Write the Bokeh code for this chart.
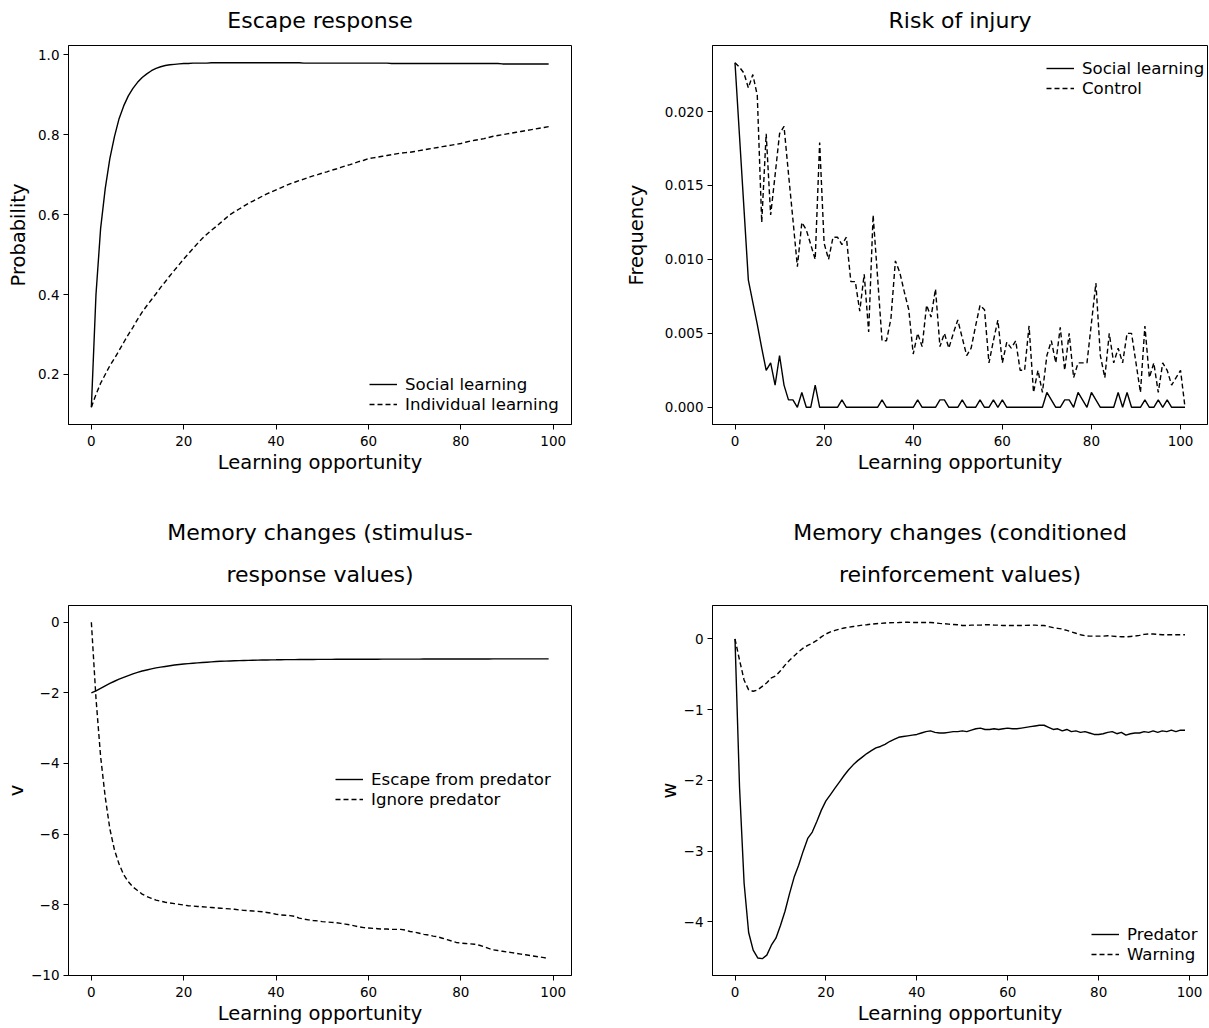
from bokeh.plotting import figure
from bokeh.layouts import column, row
from bokeh.models import (Range1d, FixedTicker, Legend, LegendItem, Title,
                          PrintfTickFormatter, CustomJSTickFormatter)
from bokeh.embed import file_html
from bokeh.resources import INLINE

FONT = "DejaVu Sans"

# ---------------- data ----------------
opportunity = list(range(100))
opportunity_injury = list(range(102))

escape_social = [
    0.118, 0.400, 0.565, 0.665, 0.740, 0.795, 0.840, 0.872, 0.897, 0.916,
    0.931, 0.943, 0.952, 0.960, 0.966, 0.970, 0.973, 0.975, 0.976, 0.977,
    0.978, 0.978, 0.979, 0.979, 0.979, 0.979, 0.980, 0.980, 0.980, 0.980,
    0.980, 0.980, 0.980, 0.980, 0.980, 0.980, 0.980, 0.980, 0.980, 0.980,
    0.980, 0.980, 0.980, 0.980, 0.980, 0.980, 0.979, 0.979, 0.979, 0.979,
    0.979, 0.979, 0.979, 0.979, 0.979, 0.979, 0.979, 0.979, 0.979, 0.979,
    0.979, 0.979, 0.979, 0.979, 0.979, 0.978, 0.978, 0.978, 0.978, 0.978,
    0.978, 0.978, 0.978, 0.978, 0.978, 0.978, 0.978, 0.978, 0.978, 0.978,
    0.978, 0.978, 0.978, 0.978, 0.978, 0.978, 0.978, 0.978, 0.978, 0.977,
    0.977, 0.977, 0.977, 0.977, 0.977, 0.977, 0.977, 0.977, 0.977, 0.977,
]
escape_individual = [
    0.118, 0.150, 0.178, 0.200, 0.222, 0.240, 0.260, 0.280, 0.300, 0.318,
    0.338, 0.356, 0.372, 0.387, 0.402, 0.418, 0.432, 0.447, 0.461, 0.475,
    0.489, 0.502, 0.515, 0.528, 0.540, 0.551, 0.561, 0.570, 0.580, 0.590,
    0.600, 0.607, 0.614, 0.621, 0.628, 0.634, 0.640, 0.646, 0.652, 0.657,
    0.662, 0.667, 0.672, 0.677, 0.681, 0.685, 0.689, 0.693, 0.697, 0.700,
    0.704, 0.707, 0.711, 0.714, 0.718, 0.722, 0.725, 0.729, 0.733, 0.736,
    0.740, 0.742, 0.744, 0.746, 0.748, 0.750, 0.752, 0.754, 0.755, 0.756,
    0.758, 0.760, 0.762, 0.764, 0.766, 0.768, 0.770, 0.772, 0.774, 0.776,
    0.778, 0.781, 0.784, 0.786, 0.788, 0.790, 0.793, 0.796, 0.798, 0.800,
    0.802, 0.804, 0.806, 0.808, 0.810, 0.812, 0.814, 0.816, 0.818, 0.820,
]

injury_social = [
    0.0233, 0.0184, 0.0135, 0.0086, 0.0071, 0.0056, 0.0040, 0.0025, 0.0030, 0.0015,
    0.0035, 0.0015, 0.0005, 0.0005, 0.0, 0.0010, 0.0, 0.0, 0.0015, 0.0,
    0.0, 0.0, 0.0, 0.0, 0.0005, 0.0, 0.0, 0.0, 0.0, 0.0,
    0.0, 0.0, 0.0, 0.0005, 0.0, 0.0, 0.0, 0.0, 0.0, 0.0,
    0.0, 0.0005, 0.0, 0.0, 0.0, 0.0, 0.0005, 0.0005, 0.0, 0.0,
    0.0, 0.0005, 0.0, 0.0, 0.0, 0.0005, 0.0, 0.0, 0.0005, 0.0,
    0.0005, 0.0, 0.0, 0.0, 0.0, 0.0, 0.0, 0.0, 0.0, 0.0,
    0.0010, 0.0005, 0.0, 0.0, 0.0005, 0.0005, 0.0, 0.0010, 0.0005, 0.0,
    0.0010, 0.0005, 0.0, 0.0, 0.0, 0.0, 0.0010, 0.0, 0.0010, 0.0,
    0.0, 0.0, 0.0005, 0.0, 0.0, 0.0005, 0.0, 0.0005, 0.0, 0.0,
    0.0, 0.0,
]
injury_control = [
    0.0233, 0.0230, 0.0226, 0.0216, 0.0225, 0.0211, 0.0125, 0.0185, 0.0130, 0.0157,
    0.0185, 0.0190, 0.0158, 0.0127, 0.0095, 0.0125, 0.0120, 0.0110, 0.0100, 0.0179,
    0.0111, 0.0100, 0.0115, 0.0115, 0.0110, 0.0115, 0.0085, 0.0085, 0.0065, 0.0090,
    0.0051, 0.0130, 0.0088, 0.0045, 0.0045, 0.0060, 0.0099, 0.0091, 0.0078, 0.0066,
    0.0036, 0.0050, 0.0041, 0.0069, 0.0061, 0.0080, 0.0041, 0.0050, 0.0040, 0.0050,
    0.0059, 0.0047, 0.0035, 0.0040, 0.0055, 0.0069, 0.0066, 0.0030, 0.0045, 0.0059,
    0.0030, 0.0044, 0.0040, 0.0045, 0.0025, 0.0025, 0.0055, 0.0010, 0.0025, 0.0010,
    0.0035, 0.0045, 0.0030, 0.0054, 0.0025, 0.0050, 0.0020, 0.0030, 0.0030, 0.0030,
    0.0057, 0.0084, 0.0035, 0.0020, 0.0050, 0.0030, 0.0040, 0.0030, 0.0050, 0.0050,
    0.0030, 0.0010, 0.0055, 0.0020, 0.0030, 0.0010, 0.0030, 0.0025, 0.0015, 0.0020,
    0.0025, 0.0,
]

v_escape = [
    -2.00, -1.94, -1.87, -1.80, -1.73, -1.67, -1.61, -1.56, -1.51, -1.46,
    -1.42, -1.38, -1.35, -1.32, -1.29, -1.27, -1.25, -1.23, -1.21, -1.195,
    -1.18, -1.17, -1.16, -1.15, -1.14, -1.13, -1.12, -1.11, -1.105, -1.10,
    -1.095, -1.09, -1.085, -1.08, -1.077, -1.074, -1.071, -1.068, -1.066, -1.064,
    -1.062, -1.059, -1.058, -1.057, -1.056, -1.055, -1.054, -1.053, -1.052, -1.051,
    -1.050, -1.049, -1.049, -1.048, -1.048, -1.047, -1.047, -1.046, -1.046, -1.046,
    -1.045, -1.045, -1.045, -1.044, -1.044, -1.044, -1.043, -1.043, -1.043, -1.042,
    -1.042, -1.042, -1.041, -1.041, -1.041, -1.040, -1.040, -1.040, -1.040, -1.039,
    -1.039, -1.039, -1.039, -1.038, -1.038, -1.038, -1.038, -1.037, -1.037, -1.037,
    -1.037, -1.036, -1.036, -1.036, -1.036, -1.035, -1.035, -1.035, -1.035, -1.035,
]
v_ignore = [
    0.00, -2.15, -3.80, -4.95, -5.85, -6.45, -6.85, -7.15, -7.35, -7.50,
    -7.60, -7.70, -7.77, -7.82, -7.87, -7.90, -7.93, -7.95, -7.97, -7.99,
    -8.01, -8.03, -8.04, -8.05, -8.06, -8.07, -8.08, -8.09, -8.10, -8.11,
    -8.12, -8.13, -8.15, -8.16, -8.17, -8.18, -8.19, -8.20, -8.22, -8.24,
    -8.27, -8.29, -8.30, -8.31, -8.33, -8.38, -8.41, -8.43, -8.45, -8.46,
    -8.48, -8.49, -8.50, -8.51, -8.53, -8.55, -8.57, -8.60, -8.63, -8.65,
    -8.66, -8.67, -8.68, -8.69, -8.69, -8.70, -8.70, -8.70, -8.72, -8.76,
    -8.78, -8.81, -8.84, -8.86, -8.89, -8.91, -8.95, -8.99, -9.03, -9.07,
    -9.09, -9.10, -9.11, -9.12, -9.15, -9.19, -9.24, -9.28, -9.30, -9.32,
    -9.34, -9.36, -9.38, -9.40, -9.42, -9.44, -9.46, -9.48, -9.50, -9.53,
]

w_predator = [
    0.00, -2.10, -3.45, -4.15, -4.40, -4.51, -4.52, -4.47, -4.33, -4.23,
    -4.05, -3.85, -3.60, -3.37, -3.20, -3.00, -2.82, -2.73, -2.58, -2.42,
    -2.29, -2.20, -2.11, -2.02, -1.93, -1.85, -1.78, -1.72, -1.67, -1.62,
    -1.58, -1.54, -1.52, -1.49, -1.45, -1.42, -1.39, -1.38, -1.37, -1.36,
    -1.35, -1.33, -1.31, -1.30, -1.32, -1.33, -1.33, -1.32, -1.31, -1.31,
    -1.30, -1.31, -1.29, -1.27, -1.26, -1.28, -1.28, -1.27, -1.28, -1.27,
    -1.26, -1.27, -1.27, -1.26, -1.25, -1.24, -1.23, -1.22, -1.22, -1.25,
    -1.28, -1.27, -1.30, -1.28, -1.31, -1.30, -1.32, -1.31, -1.33, -1.35,
    -1.35, -1.34, -1.32, -1.31, -1.34, -1.32, -1.36, -1.34, -1.33, -1.33,
    -1.31, -1.32, -1.30, -1.32, -1.30, -1.31, -1.29, -1.31, -1.29, -1.29,
]
w_warning = [
    0.00, -0.30, -0.58, -0.72, -0.74, -0.72, -0.67, -0.62, -0.55, -0.52,
    -0.45, -0.37, -0.30, -0.24, -0.18, -0.13, -0.09, -0.06, -0.02, 0.03,
    0.07, 0.10, 0.12, 0.14, 0.155, 0.165, 0.175, 0.185, 0.195, 0.20,
    0.21, 0.215, 0.22, 0.225, 0.228, 0.23, 0.232, 0.235, 0.235, 0.233,
    0.232, 0.233, 0.233, 0.232, 0.228, 0.22, 0.215, 0.21, 0.205, 0.20,
    0.19, 0.19, 0.195, 0.195, 0.195, 0.20, 0.20, 0.195, 0.195, 0.19,
    0.19, 0.19, 0.19, 0.19, 0.192, 0.195, 0.195, 0.19, 0.19, 0.175,
    0.16, 0.15, 0.14, 0.12, 0.10, 0.08, 0.06, 0.045, 0.04, 0.04,
    0.04, 0.04, 0.045, 0.04, 0.035, 0.03, 0.03, 0.035, 0.04, 0.05,
    0.065, 0.07, 0.07, 0.065, 0.06, 0.06, 0.06, 0.06, 0.06, 0.06,
]

x_ticks = [0, 20, 40, 60, 80, 100]

# ---------------- helpers ----------------
MINUS_CODE = """
    if (tick < 0) { return "\\u2212" + Math.abs(tick).toString(); }
    return tick.toString();
"""


def make_fig(fw, fh, bl, br, bt, bb, xr, yr):
    p = figure(frame_width=fw, frame_height=fh,
               min_border_left=bl, min_border_right=br,
               min_border_top=bt, min_border_bottom=bb,
               x_range=Range1d(*xr), y_range=Range1d(*yr),
               output_backend="svg", toolbar_location=None, tools="",
               title=None)
    p.xgrid.visible = False
    p.ygrid.visible = False
    p.outline_line_color = "black"
    p.outline_line_alpha = 1
    p.outline_line_width = 1
    p.background_fill_color = "white"
    p.border_fill_color = "white"
    for ax in (p.xaxis[0], p.yaxis[0]):
        ax.axis_line_color = "black"
        ax.major_tick_line_color = "black"
        ax.major_tick_out = 5
        ax.major_tick_in = 0
        ax.minor_tick_line_color = None
        ax.major_label_standoff = 4
        ax.major_label_text_font = FONT
        ax.major_label_text_font_size = "13.5px"
        ax.major_label_text_color = "black"
        ax.axis_label_text_font = FONT
        ax.axis_label_text_font_size = "19.5px"
        ax.axis_label_text_font_style = "normal"
        ax.axis_label_text_color = "black"
        ax.axis_label_standoff = 2
    p.xaxis[0].major_label_standoff = 6
    p.xaxis[0].ticker = FixedTicker(ticks=x_ticks)
    p.xaxis[0].axis_label = "Learning opportunity"
    return p


def add_titles(p, lines, spacer, standoffs):
    # a tiny blank title acts as a spacer between the frame and the text
    p.add_layout(Title(text=" ", text_font_size="1px", standoff=spacer), "above")
    # each added Title is stacked further away from the frame
    for text, so in zip(reversed(lines), standoffs):
        p.add_layout(Title(text=text, align="center", text_font=FONT,
                           text_font_size="22px", text_font_style="normal",
                           text_color="black", standoff=so), "above")


def add_legend(p, items, loc):
    leg = Legend(items=[LegendItem(label=l, renderers=[r]) for l, r in items],
                 location=loc, glyph_width=28, glyph_height=20, label_height=20,
                 label_standoff=8, spacing=0, padding=5, margin=0,
                 border_line_alpha=0, background_fill_alpha=0,
                 label_text_font=FONT, label_text_font_size="16.6px",
                 label_text_color="black")
    p.add_layout(leg)


LW = 1.4
DASH = "5 3"
LEFT_W = 503
RIGHT_W = 495

# ---------------- top-left: escape response ----------------
p1 = make_fig(LEFT_W, 379, 68, 10, 45, 60, (-4.95, 103.95), (0.0749, 1.0231))
add_titles(p1, ["Escape response"], 10, [0])
p1.yaxis[0].ticker = FixedTicker(ticks=[0.2, 0.4, 0.6, 0.8, 1.0])
p1.yaxis[0].formatter = PrintfTickFormatter(format="%.1f")
p1.yaxis[0].axis_label = "Probability"
p1.yaxis[0].axis_label_standoff = 5
r1a = p1.line(opportunity, escape_social, line_color="black", line_width=LW)
r1b = p1.line(opportunity, escape_individual, line_color="black", line_width=LW, line_dash=DASH)
add_legend(p1, [("Social learning", r1a), ("Individual learning", r1b)], (296, 5))

# ---------------- top-right: risk of injury ----------------
p2 = make_fig(RIGHT_W, 379, 131, 1, 45, 60, (-5.05, 106.05), (-0.001165, 0.024465))
add_titles(p2, ["Risk of injury"], 10, [0])
p2.yaxis[0].ticker = FixedTicker(ticks=[0.0, 0.005, 0.010, 0.015, 0.020])
p2.yaxis[0].formatter = PrintfTickFormatter(format="%.3f")
p2.yaxis[0].axis_label = "Frequency"
p2.yaxis[0].axis_label_standoff = 14
r2a = p2.line(opportunity_injury, injury_social, line_color="black", line_width=LW)
r2b = p2.line(opportunity_injury, injury_control, line_color="black", line_width=LW, line_dash=DASH)
add_legend(p2, [("Social learning", r2a), ("Control", r2b)], (329, 321))

# ---------------- bottom-left: stimulus-response values ----------------
p3 = make_fig(LEFT_W, 370, 68, 10, 121, 40, (-4.95, 103.95), (-10.0065, 0.4765))
add_titles(p3, ["Memory changes (stimulus-", "response values)"], 16, [0, 30])
p3.yaxis[0].ticker = FixedTicker(ticks=[-10, -8, -6, -4, -2, 0])
p3.yaxis[0].formatter = CustomJSTickFormatter(code=MINUS_CODE)
p3.yaxis[0].axis_label = "v"
p3.yaxis[0].axis_label_standoff = 0
r3a = p3.line(opportunity, v_escape, line_color="black", line_width=LW)
r3b = p3.line(opportunity, v_ignore, line_color="black", line_width=LW, line_dash=DASH)
add_legend(p3, [("Escape from predator", r3a), ("Ignore predator", r3b)], (262, 161))

# ---------------- bottom-right: conditioned reinforcement values ----------------
p4 = make_fig(RIGHT_W, 370, 131, 1, 121, 40, (-4.95, 103.95), (-4.7578, 0.4728))
add_titles(p4, ["Memory changes (conditioned", "reinforcement values)"], 16, [0, 30])
p4.yaxis[0].ticker = FixedTicker(ticks=[-4, -3, -2, -1, 0])
p4.yaxis[0].formatter = CustomJSTickFormatter(code=MINUS_CODE)
p4.yaxis[0].axis_label = "w"
p4.yaxis[0].axis_label_standoff = 0
r4a = p4.line(opportunity, w_predator, line_color="black", line_width=LW)
r4b = p4.line(opportunity, w_warning, line_color="black", line_width=LW, line_dash=DASH)
add_legend(p4, [("Predator", r4a), ("Warning", r4b)], (374, 6))

layout = column(row(p1, p2), row(p3, p4))
open("out.html", "w").write(file_html(layout, INLINE))
